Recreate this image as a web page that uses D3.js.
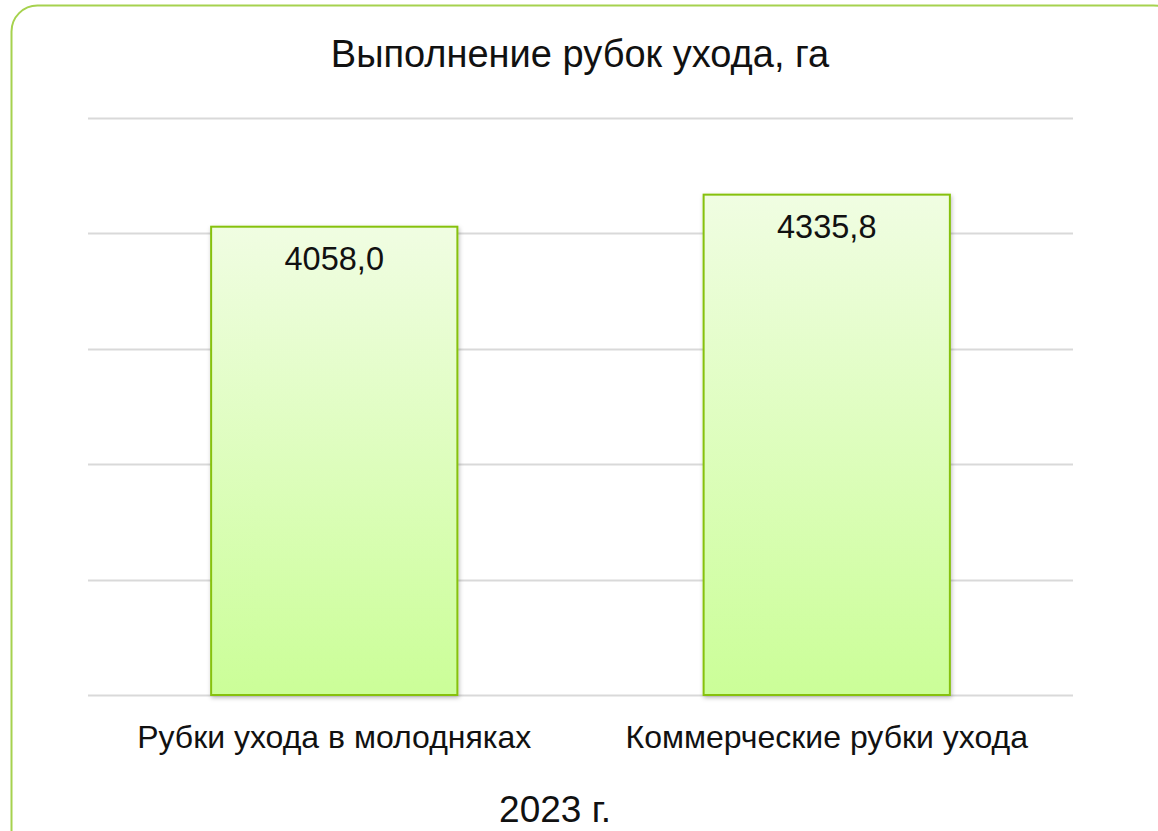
<!DOCTYPE html>
<html>
<head>
<meta charset="utf-8">
<script src="https://cdn.jsdelivr.net/npm/d3@7"></script>
<style>
  body { margin: 0; background: #fff; }
  svg text { font-family: "Liberation Sans", Arial, sans-serif; fill: #111; }
</style>
</head>
<body>
<svg id="chart" width="1158" height="831"></svg>
<script>
const categories = ["Рубки ухода в молодняках", "Коммерческие рубки ухода"];
const values = [4058.0, 4335.8];
const gridTicks = [0, 1000, 2000, 3000, 4000, 5000];
const title = "Выполнение рубок ухода, га";
const axisTitle = "2023 г.";

const svg = d3.select("#chart");
const margin = { left: 88, right: 85, top: 118, bottom: 136 };
const width = 1158, height = 831;

const defs = svg.append("defs");
const grad = defs.append("linearGradient")
  .attr("id", "barGrad").attr("x1", 0).attr("y1", 0).attr("x2", 0).attr("y2", 1);
grad.append("stop").attr("offset", "0%").attr("stop-color", "#f0fde2");
grad.append("stop").attr("offset", "100%").attr("stop-color", "#cbfe98");

const shadow = defs.append("filter").attr("id", "shadow")
  .attr("x", "-10%").attr("y", "-10%").attr("width", "120%").attr("height", "120%");
shadow.append("feDropShadow").attr("dx", 1).attr("dy", 2).attr("stdDeviation", 2)
  .attr("flood-color", "#000").attr("flood-opacity", 0.25);

// outer frame
svg.append("rect")
  .attr("x", 11.5).attr("y", 5.5)
  .attr("width", 1168).attr("height", 850)
  .attr("rx", 26).attr("ry", 26)
  .attr("fill", "none").attr("stroke", "#a6d24e").attr("stroke-width", 2);

const x = d3.scaleBand()
  .domain(categories)
  .range([margin.left, width - margin.right])
  .paddingInner(0.5).paddingOuter(0.25);

const y = d3.scaleLinear()
  .domain([0, 5000])
  .range([height - margin.bottom, margin.top]);

svg.append("g").selectAll("line")
  .data(gridTicks)
  .join("line")
  .attr("x1", margin.left).attr("x2", width - margin.right)
  .attr("y1", d => Math.round(y(d)) + 0.5).attr("y2", d => Math.round(y(d)) + 0.5)
  .attr("stroke", "#d9d9d9").attr("stroke-width", 2);

svg.append("g").selectAll("rect")
  .data(values)
  .join("rect")
  .attr("x", (d, i) => x(categories[i]))
  .attr("y", d => y(d))
  .attr("width", x.bandwidth())
  .attr("height", d => y(0) - y(d))
  .attr("fill", "url(#barGrad)")
  .attr("stroke", "#86c10f").attr("stroke-width", 2)
  .attr("filter", "url(#shadow)");

svg.append("g").selectAll("text")
  .data(values)
  .join("text")
  .attr("x", (d, i) => x(categories[i]) + x.bandwidth() / 2)
  .attr("y", d => y(d) + 43)
  .attr("text-anchor", "middle")
  .attr("font-size", 32.5)
  .text(d => d3.format(".1f")(d).replace(".", ","));

svg.append("g").selectAll("text")
  .data(categories)
  .join("text")
  .attr("x", d => x(d) + x.bandwidth() / 2)
  .attr("y", 748)
  .attr("text-anchor", "middle")
  .attr("font-size", 32)
  .text(d => d);

svg.append("text")
  .attr("x", 580).attr("y", 67)
  .attr("text-anchor", "middle")
  .attr("font-size", 38)
  .text(title);

svg.append("text")
  .attr("x", 555).attr("y", 822)
  .attr("text-anchor", "middle")
  .attr("font-size", 37)
  .text(axisTitle);
</script>
</body>
</html>
